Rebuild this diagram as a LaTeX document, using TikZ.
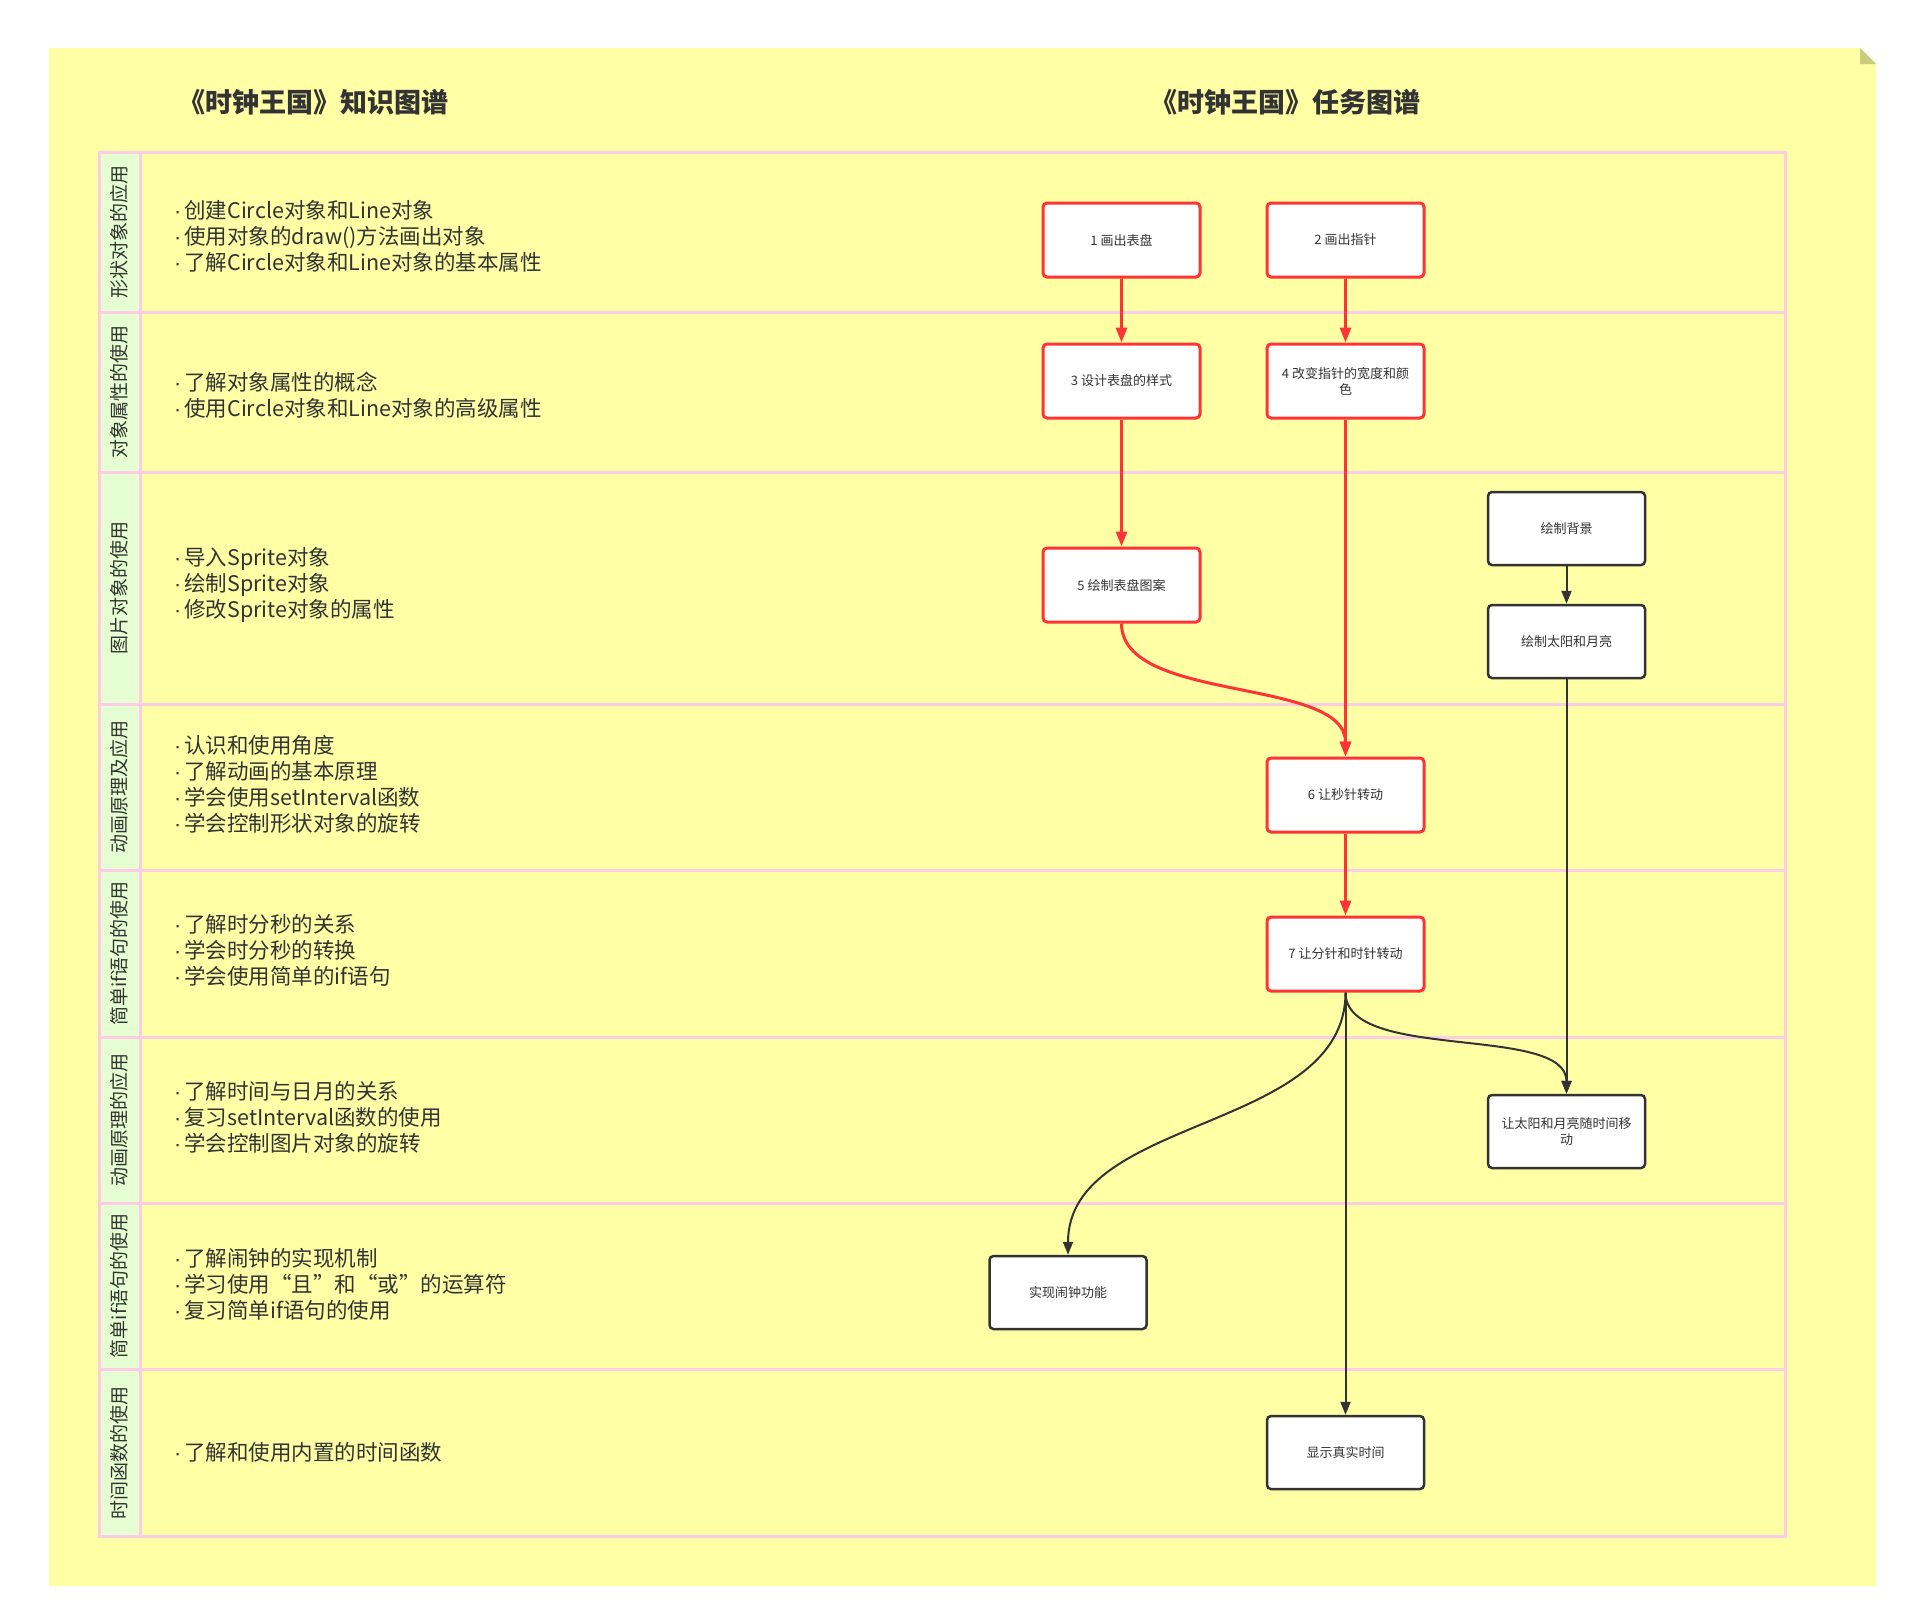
\documentclass[tikz,border=0pt]{standalone}
\usepackage{fontspec}
\setmainfont{Noto Sans CJK SC}
\newfontfamily\dotfont{Liberation Sans}
\usetikzlibrary{arrows.meta}
\definecolor{note}{HTML}{FFFFA6}
\definecolor{fold}{HTML}{CCCC80}
\definecolor{lanepink}{HTML}{FFCCE6}
\definecolor{lgreen}{HTML}{E6FFD2}
\definecolor{txt}{HTML}{333333}
\definecolor{myred}{HTML}{FF3333}
\newcommand{\bul}{{\dotfont ·}\kern3pt}
\begin{document}
\begin{tikzpicture}[x=1pt,y=-1pt,
  redbox/.style={draw=myred, line width=3pt, fill=white, rounded corners=4pt,
    minimum width=157pt, minimum height=74pt, font=\fontsize{13}{16}\selectfont,
    text=txt, align=center, inner sep=0pt},
  blkbox/.style={draw=txt, line width=2.5pt, fill=white, rounded corners=4pt,
    minimum width=157pt, minimum height=73pt, font=\fontsize{13}{16}\selectfont,
    text=txt, align=center, inner sep=0pt},
  redarr/.style={draw=myred, line width=3pt, -{Triangle[length=15pt,width=11pt]}},
  blkarr/.style={draw=txt, line width=2pt, -{Triangle[length=13pt,width=10pt]}},
  lane/.style={draw=lanepink, line width=3pt},
  lanelbl/.style={rotate=90, font=\fontsize{19}{21}\selectfont, text=txt, inner sep=0pt},
  know/.style={anchor=west, align=left, font=\fontsize{21.5}{26}\selectfont, text=txt, inner sep=0pt},
  titletext/.style={font=\bfseries\fontsize{27}{30}\selectfont, text=txt}]

\useasboundingbox (0,0) rectangle (1908,1618);
\fill[white] (0,0) rectangle (1908,1618);
\fill[note] (49,48) -- (1860,48) -- (1876,64) -- (1876,1586) -- (49,1586) -- cycle;
\fill[fold] (1860,48) -- (1876,64) -- (1860,64) -- cycle;

% titles
\node[titletext] (t1) at (313,102) {《时钟王国》知识图谱};
\node[titletext] (t2) at (1285,102) {《时钟王国》任务图谱};

% lanes
\foreach \a/\b/\lbl [count=\i] in {152/312/形状对象的应用, 312/472/对象属性的使用,
  472/704/图片对象的使用, 704/870/动画原理及应用, 870/1037/简单if语句的使用,
  1037/1203/动画原理的应用, 1203/1369/简单if语句的使用, 1369/1536/时间函数的使用}{
  \draw[lane, fill=lgreen] (99,\a) rectangle (140,\b);
  \draw[lane] (140,\a) rectangle (1785,\b);
  \node[lanelbl] (lbl\i) at (119.5,{(\a+\b)/2}) {\lbl};
}

% knowledge texts
\node[know] (k1) at (174,236) {\bul 创建Circle对象和Line对象\\\bul 使用对象的draw()方法画出对象\\\bul 了解Circle对象和Line对象的基本属性};
\node[know] (k2) at (174,395) {\bul 了解对象属性的概念\\\bul 使用Circle对象和Line对象的高级属性};
\node[know] (k3) at (174,585) {\bul 导入Sprite对象\\\bul 绘制Sprite对象\\\bul 修改Sprite对象的属性};
\node[know] (k4) at (174,784) {\bul 认识和使用角度\\\bul 了解动画的基本原理\\\bul 学会使用setInterval函数\\\bul 学会控制形状对象的旋转};
\node[know] (k5) at (174,950) {\bul 了解时分秒的关系\\\bul 学会时分秒的转换\\\bul 学会使用简单的if语句};
\node[know] (k6) at (174,1117) {\bul 了解时间与日月的关系\\\bul 复习setInterval函数的使用\\\bul 学会控制图片对象的旋转};
\node[know] (k7) at (174,1284) {\bul 了解闹钟的实现机制\\\bul 学习使用“且”和“或”的运算符\\\bul 复习简单if语句的使用};
\node[know] (k8) at (174,1452) {\bul 了解和使用内置的时间函数};

% task nodes
\node[redbox] (n1) at (1121.5,240) {1 画出表盘};
\node[redbox] (n2) at (1345.5,240) {2 画出指针};
\node[redbox] (n3) at (1121.5,381) {3 设计表盘的样式};
\node[redbox] (n4) at (1345.5,381) {4 改变指针的宽度和颜\\色};
\node[redbox] (n5) at (1121.5,585) {5 绘制表盘图案};
\node[redbox] (n6) at (1345.5,795) {6 让秒针转动};
\node[redbox] (n7) at (1345.5,954) {7 让分针和时针转动};
\node[blkbox] (bg) at (1566.5,528.5) {绘制背景};
\node[blkbox] (sm) at (1566.5,641.5) {绘制太阳和月亮};
\node[blkbox] (mv) at (1566.5,1131.5) {让太阳和月亮随时间移\\动};
\node[blkbox] (al) at (1068,1292.5) {实现闹钟功能};
\node[blkbox] (rt) at (1345.5,1452.5) {显示真实时间};

% connectors
\draw[redarr] (n1) -- (n3);
\draw[redarr] (n2) -- (n4);
\draw[redarr] (n3) -- (n5);
\draw[redarr] (n4) -- (n6);
\draw[redarr] (n5.south) .. controls +(0,80) and +(0,-80) .. (n6.north);
\draw[redarr] (n6) -- (n7);
\draw[blkarr] (bg) -- (sm);
\draw[blkarr] (sm) -- (mv);
\draw[blkarr] (n7.south) .. controls +(0,70) and +(0,-70) .. (mv.north);
\draw[blkarr] (n7.south) .. controls +(0,140) and +(0,-140) .. (al.north);
\draw[blkarr] (n7) -- (rt);
\end{tikzpicture}
\end{document}
